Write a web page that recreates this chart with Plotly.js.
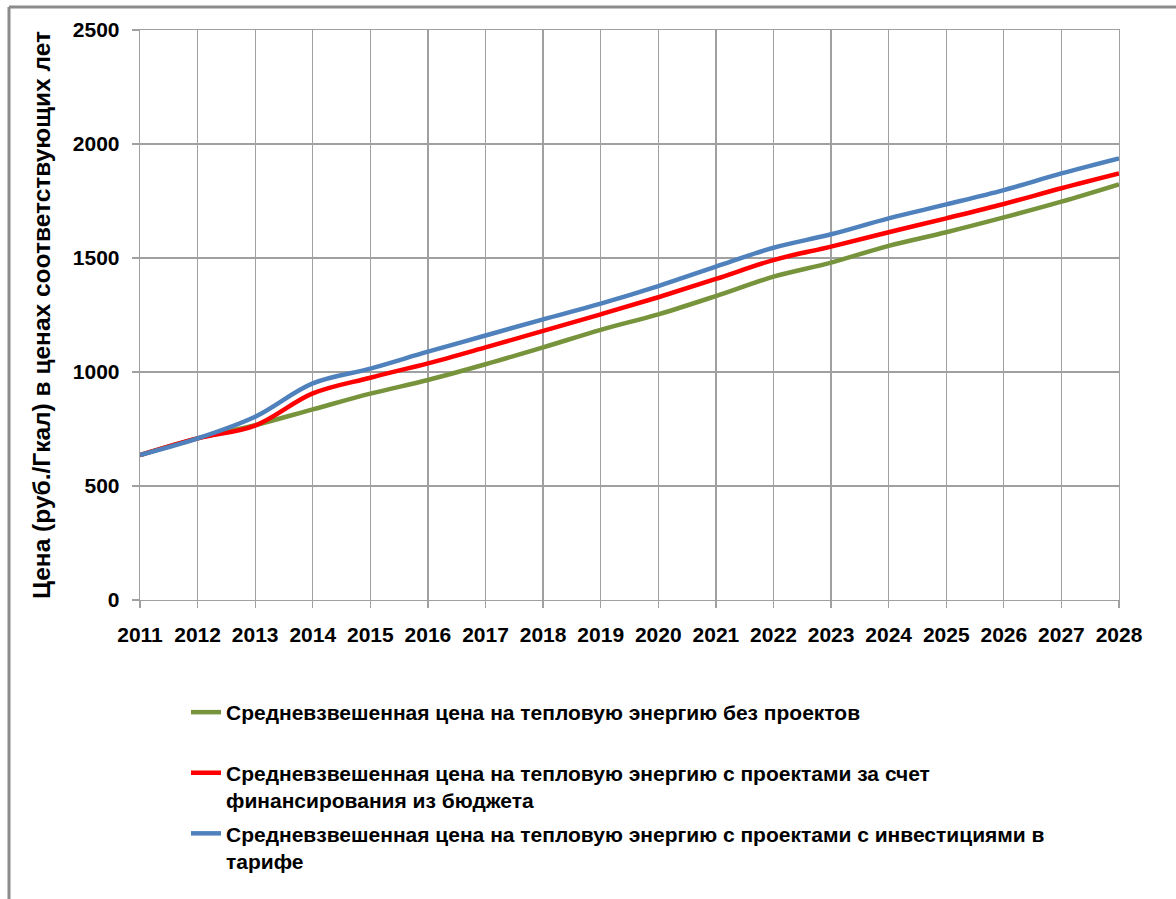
<!DOCTYPE html>
<html>
<head>
<meta charset="utf-8">
<script src="https://cdn.plot.ly/plotly-3.0.1.min.js"></script>
<style>html,body{margin:0;padding:0;background:#fff;}#chart{width:1176px;height:899px;}</style>
</head>
<body>
<div id="chart"></div>
<script>
const years = [2011,2012,2013,2014,2015,2016,2017,2018,2019,2020,2021,2022,2023,2024,2025,2026,2027,2028];
const priceNoProjects = [636,709,767,836,905,965,1034,1108,1185,1253,1333,1418,1480,1553,1613,1678,1747,1823];
const priceBudgetProjects = [636,709,765,906,975,1038,1108,1180,1253,1328,1408,1491,1550,1613,1674,1737,1806,1871];
const priceTariffProjects = [636,709,804,950,1015,1089,1160,1231,1300,1377,1462,1545,1604,1674,1735,1798,1871,1937];
const seriesNames = [
  "Средневзвешенная цена на тепловую энергию без проектов<br>&nbsp;",
  "Средневзвешенная цена на тепловую энергию с проектами за счет<br>финансирования из бюджета",
  "Средневзвешенная цена на тепловую энергию с проектами с инвестициями в<br>тарифе"
];
const seriesColors = ["#77933C", "#FF0000", "#4F81BD"];
const yTitle = "Цена (руб./Гкал) в ценах соответствующих лет";

const FONT = "Liberation Sans, Arial, sans-serif";
const seriesValues = [priceNoProjects, priceBudgetProjects, priceTariffProjects];
const traces = seriesValues.map((vals, i) => ({
  type: 'scatter', mode: 'lines', x: years, y: vals, name: seriesNames[i],
  legendgroup: 'g' + i,
  line: {color: seriesColors[i], width: 4.5, shape: 'spline', smoothing: 1},
  hoverinfo: 'x+y'
}));

const W = 1176, H = 899, L = 140, R = 57, T = 30, B = 299;
const pw = W - L - R, ph = H - T - B;
const px = v => (v - L) / pw;
const py = v => (H - B - v) / ph;

const layout = {
  width: W, height: H,
  margin: {l: L, r: R, t: T, b: B},
  paper_bgcolor: '#fff', plot_bgcolor: '#fff',
  font: {family: FONT, color: '#000', size: 18},
  showlegend: true,
  legend: {
    x: px(186), y: py(692), xanchor: 'left', yanchor: 'top',
    font: {family: FONT, size: 21, weight: 'bold', color: '#000'},
    valign: 'top', tracegroupgap: 3, traceorder: 'grouped',
    bgcolor: 'rgba(0,0,0,0)'
  },
  xaxis: {
    range: [2011, 2028], tickmode: 'linear', tick0: 2011, dtick: 1,
    showgrid: true, gridcolor: '#a0a0a0', gridwidth: 1.3,
    showline: true, linecolor: '#a0a0a0', linewidth: 1.3, mirror: true,
    ticks: 'outside', ticklen: 7, tickcolor: '#a0a0a0', tickwidth: 1.3,
    tickfont: {family: FONT, size: 21, weight: 'bold', color: '#000'},
    ticklabelstandoff: 8,
    zeroline: false, fixedrange: true
  },
  yaxis: {
    range: [0, 2500], tickmode: 'linear', tick0: 0, dtick: 500,
    showgrid: true, gridcolor: '#a0a0a0', gridwidth: 1.3,
    showline: true, linecolor: '#a0a0a0', linewidth: 1.3, mirror: true,
    ticks: 'outside', ticklen: 7, tickcolor: '#a0a0a0', tickwidth: 1.3,
    tickfont: {family: FONT, size: 21, weight: 'bold', color: '#000'},
    ticklabelstandoff: 8,
    title: {text: yTitle, font: {family: FONT, size: 24.5, weight: 'bold', color: '#000'}, standoff: 15},
    zeroline: false, fixedrange: true
  },
  shapes: [
    {type: 'line', xref: 'paper', yref: 'paper', x0: px(9), x1: px(1176), y0: py(7), y1: py(7), line: {color: '#8c8c8c', width: 3}},
    {type: 'line', xref: 'paper', yref: 'paper', x0: px(9), x1: px(9), y0: py(7), y1: py(899), line: {color: '#8c8c8c', width: 3}}
  ]
};

Plotly.newPlot('chart', traces, layout, {displayModeBar: false, staticPlot: true});
</script>
</body>
</html>
